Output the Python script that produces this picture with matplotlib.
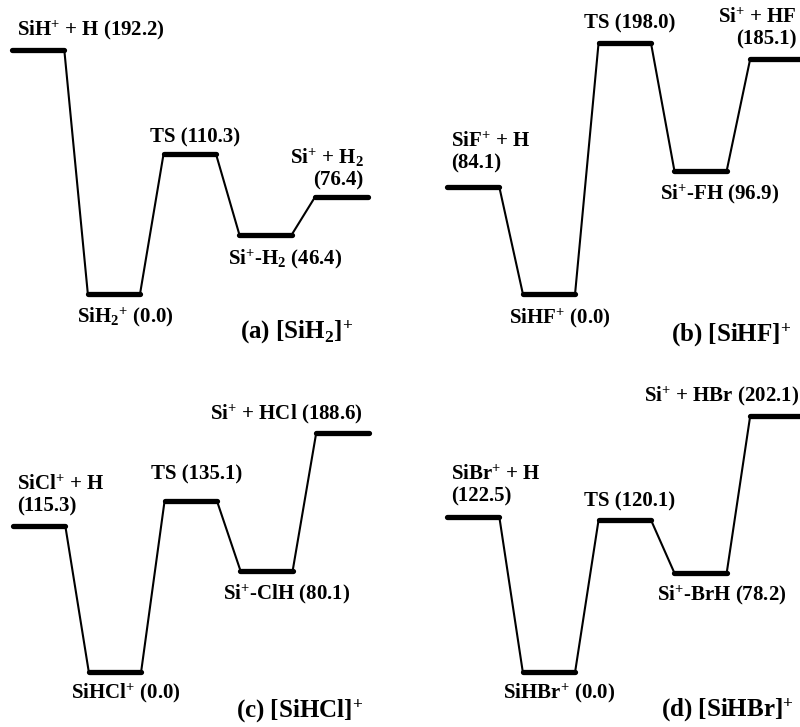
import matplotlib
matplotlib.use("Agg")
import matplotlib.pyplot as plt

plt.rcParams['font.family'] = ['Liberation Serif', 'DejaVu Serif']
plt.rcParams['font.weight'] = 'bold'
plt.rcParams['mathtext.fontset'] = 'custom'
plt.rcParams['mathtext.rm'] = 'Liberation Serif:bold'
plt.rcParams['mathtext.it'] = 'Liberation Serif:bold'
plt.rcParams['mathtext.bf'] = 'Liberation Serif:bold'

# relative energies, kJ/mol
energy_a = [192.2, 0.0, 110.3, 46.4, 76.4]
energy_b = [84.1, 0.0, 198.0, 96.9, 185.1]
energy_c = [115.3, 0.0, 135.1, 80.1, 188.6]
energy_d = [122.5, 0.0, 120.1, 78.2, 202.1]

labels_a = [r'SiH$^{+}$ + H (192.2)', r'SiH$_{2}$$^{+}$ (0.0)', 'TS (110.3)',
            r'Si$^{+}$-H$_{2}$ (46.4)', 'Si$^{+}$ + H$_{2}$\n(76.4)']
labels_b = ['SiF$^{+}$ + H\n(84.1)', r'SiHF$^{+}$ (0.0)', 'TS (198.0)',
            r'Si$^{+}$-FH (96.9)', 'Si$^{+}$ + HF\n(185.1)']
labels_c = ['SiCl$^{+}$ + H\n(115.3)', r'SiHCl$^{+}$ (0.0)', 'TS (135.1)',
            r'Si$^{+}$-ClH (80.1)', r'Si$^{+}$ + HCl (188.6)']
labels_d = ['SiBr$^{+}$ + H\n(122.5)', r'SiHBr$^{+}$ (0.0)', 'TS (120.1)',
            r'Si$^{+}$-BrH (78.2)', r'Si$^{+}$ + HBr (202.1)']

titles = [r'(a) [SiH$_{2}$]$^{+}$', r'(b) [SiHF]$^{+}$',
          r'(c) [SiHCl]$^{+}$', r'(d) [SiHBr]$^{+}$']

# label placement: (anchor, dx, dy) in pixels from the level
place_a = [('left', 5, 20), ('center', 11, -24), ('center', 5, 16),
           ('center', 20, -25), ('right', -4, 28)]
place_b = [('left', 4, 34), ('center', 11, -25), ('center', 5, 19),
           ('center', 19, -24), ('right', -6, 30)]
place_c = [('left', 4, 30), ('center', 11, -21), ('center', 6, 26),
           ('center', 20, -24), ('right', -6, 19)]
place_d = [('left', 4, 31), ('center', 10, -21), ('center', 5, 18),
           ('center', 21, -22), ('right', -3, 20)]

W, H = 800, 727
PITCH = 75.8      # px between level starts
WIDTH = 0.69      # level width in pitch units
SCALE = 1.267     # px per kJ/mol

fig = plt.figure(figsize=(W / 100, H / 100), dpi=100)


def panel(x0, zero_y, top, bottom, energies, labels, place, title, title_xy):
    # axes in pixel box, x0 = pixel of first level start, zero_y = pixel row of 0.0
    left = x0 - 12
    ax = fig.add_axes([left / W, 1 - bottom / H, 440 / W, (bottom - top) / H])
    ax.set_xlim(-12 / PITCH, 428 / PITCH)
    ax.set_ylim((zero_y - bottom) / SCALE, (zero_y - top) / SCALE)
    ax.axis('off')
    for i, e in enumerate(energies):
        ax.plot([i, i + WIDTH], [e, e], color='black', lw=3.8,
                solid_capstyle='round', clip_on=False)
        if i > 0:
            ax.plot([i - 1 + WIDTH, i], [energies[i - 1], e], color='black',
                    lw=1.5, clip_on=False)
    for i, (e, lab, (anc, dx, dy)) in enumerate(zip(energies, labels, place)):
        xa = {'left': i, 'center': i + WIDTH / 2, 'right': i + WIDTH}[anc]
        ax.annotate(lab, xy=(xa, e), xytext=(dx, dy), textcoords='offset pixels',
                    ha=anc, va='center', fontsize=15, fontweight='bold',
                    multialignment=anc, linespacing=1.13, annotation_clip=False)
    fig.text(title_xy[0] / W, 1 - title_xy[1] / H, title, ha='center', va='center',
             fontsize=18, fontweight='bold')


panel(12, 293.5, 0, 367, energy_a, labels_a, place_a, titles[0], (297, 332))
panel(447, 293.5, 0, 367, energy_b, labels_b, place_b, titles[1], (731, 335))
panel(13, 672, 360, 727, energy_c, labels_c, place_c, titles[2], (300, 711))
panel(447, 672, 360, 727, energy_d, labels_d, place_d, titles[3], (727, 710))

fig.savefig('out.png', dpi=100)
